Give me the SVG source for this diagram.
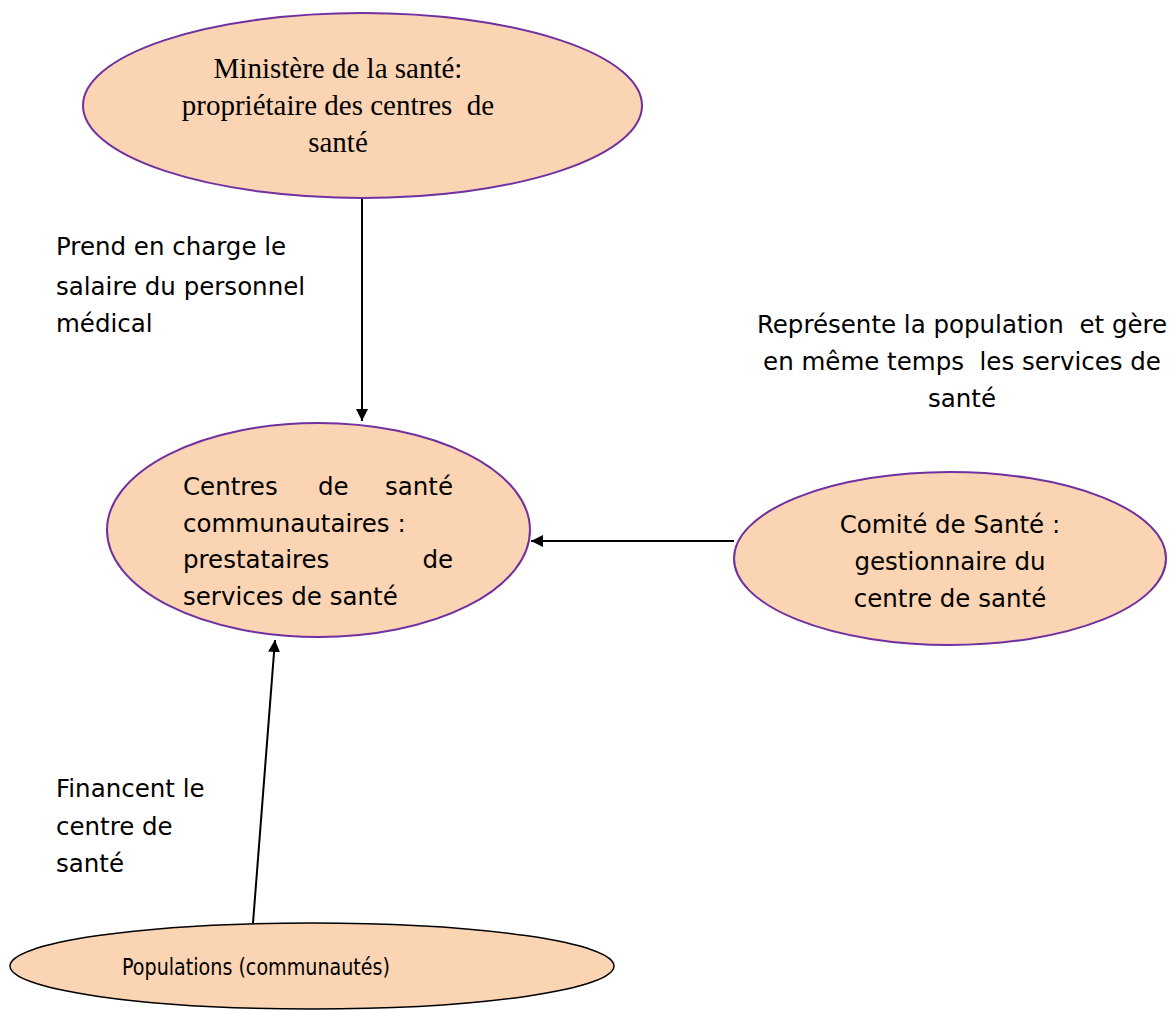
<svg xmlns="http://www.w3.org/2000/svg" width="1172" height="1010" viewBox="0 0 1172 1010">
<defs>
<style>
.node{fill:#FBD4B4;stroke:#7030A0;stroke-width:2}
.nodeb{fill:#FBD4B4;stroke:#000;stroke-width:1.5}
.t{font-family:"DejaVu Sans","Liberation Sans",sans-serif;font-size:24.5px;fill:#000}
.p{font-family:"DejaVu Sans","Liberation Sans",sans-serif;font-size:23px;fill:#000}
.s{font-family:"Liberation Serif","DejaVu Serif",serif;font-size:29px;fill:#000}
.c{stroke:#000;stroke-width:2;fill:none;marker-end:url(#ah)}
</style>
<marker id="ah" viewBox="0 0 10 10" refX="10" refY="5" markerWidth="6" markerHeight="6" orient="auto" markerUnits="strokeWidth">
<path d="M0,0 L10,5 L0,10 z" fill="#000"/>
</marker>
</defs>
<rect width="1172" height="1010" fill="#fff"/>
<g id="connectors">
<line class="c" x1="362" y1="198" x2="362" y2="421"/>
<line class="c" x1="734" y1="541" x2="531" y2="541"/>
<line class="c" x1="253" y1="923" x2="275" y2="640"/>
</g>
<g id="ministere">
<ellipse class="node" cx="362.5" cy="105.5" rx="279.5" ry="92.5"/>
<text class="s" text-anchor="middle" xml:space="preserve"><tspan x="338" y="78">Ministère de la santé:</tspan><tspan x="338" y="115">propriétaire des centres  de</tspan><tspan x="338" y="152">santé</tspan></text>
</g>
<g id="centres">
<ellipse class="node" cx="318.5" cy="530" rx="211.5" ry="107"/>
<text class="t"><tspan x="183" y="495">Centres</tspan><tspan x="318" y="495">de</tspan><tspan x="453" y="495" text-anchor="end">santé</tspan></text>
<text class="t"><tspan x="183" y="532">communautaires :</tspan></text>
<text class="t"><tspan x="183" y="568">prestataires</tspan><tspan x="453" y="568" text-anchor="end">de</tspan></text>
<text class="t"><tspan x="183" y="605">services de santé</tspan></text>
</g>
<g id="comite">
<ellipse class="node" cx="950" cy="558.5" rx="216" ry="86.5"/>
<text class="t" text-anchor="middle"><tspan x="950" y="533">Comité de Santé :</tspan><tspan x="950" y="570">gestionnaire du</tspan><tspan x="950" y="607">centre de santé</tspan></text>
</g>
<g id="populations">
<ellipse class="nodeb" cx="312" cy="966" rx="302" ry="43"/>
<text class="p" x="122" y="975" textLength="268" lengthAdjust="spacingAndGlyphs">Populations (communautés)</text>
</g>
<g id="labels">
<text class="t"><tspan x="56" y="255">Prend en charge le</tspan><tspan x="56" y="295">salaire du personnel</tspan><tspan x="56" y="332">médical</tspan></text>
<text class="t" text-anchor="middle" xml:space="preserve"><tspan x="962" y="333">Représente la population  et gère</tspan><tspan x="962" y="370">en même temps  les services de</tspan><tspan x="962" y="407">santé</tspan></text>
<text class="t"><tspan x="56" y="797">Financent le</tspan><tspan x="56" y="835">centre de</tspan><tspan x="56" y="872">santé</tspan></text>
</g>
</svg>
